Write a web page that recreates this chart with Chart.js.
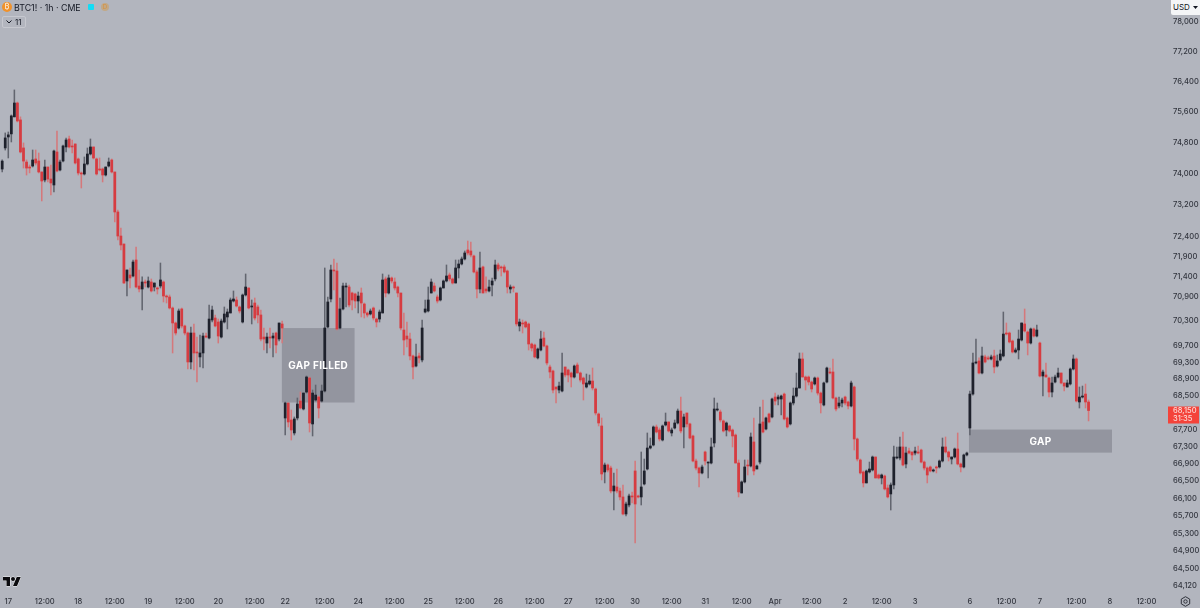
<!DOCTYPE html>
<html>
<head>
<meta charset="utf-8">
<title>BTC1! 1h CME</title>
<script src="https://cdn.jsdelivr.net/npm/chart.js@4"></script>
<style>
  html, body { margin: 0; padding: 0; background: #b2b5be; }
  #wrap { position: relative; width: 1200px; height: 608px; overflow: hidden; font-family: Inter, sans-serif; color: #131722; }
  #wrap canvas { position: absolute; left: 0; top: 0; }
  .abs { position: absolute; }
  #coin { left: 2px; top: 2px; width: 10px; height: 10px; border-radius: 50%; background: #f0922b; color: #fff; font-size: 7px; line-height: 10px; text-align: center; }
  #title { left: 14px; top: 2px; font-size: 8.8px; line-height: 11px; white-space: nowrap; }
  #live { left: 88px; top: 4px; width: 6px; height: 6px; background: #12dcf5; border-radius: 1px; }
  #delay { left: 101px; top: 3px; width: 8px; height: 8px; border-radius: 50%; background: #c2a886; color: #d88f3c; font-size: 6px; line-height: 8px; text-align: center; }
  #fold { left: 2px; top: 16px; width: 22px; height: 10px; border: 1px solid #c6c8cf; border-radius: 2px; font-size: 8px; line-height: 10px; box-sizing: content-box; }
  #fold span { position: absolute; left: 12px; top: 0; }
  #fold svg { position: absolute; left: 3px; top: 3px; }
  #usd { left: 1171px; top: 0; width: 29px; height: 15px; background: #f4f5f7; border-radius: 0 0 0 2px; font-size: 8px; line-height: 15px; padding-left: 2px; box-sizing: border-box; }
  #usd svg { position: absolute; right: 2px; top: 6px; }
</style>
</head>
<body>
<div id="wrap">
  <canvas id="chart" width="1200" height="608"></canvas>
  <div class="abs" id="coin">₿</div>
  <div class="abs" id="title">BTC1! · 1h · CME</div>
  <div class="abs" id="live"></div>
  <div class="abs" id="delay">D</div>
  <div class="abs" id="fold"><svg width="6" height="4" viewBox="0 0 6 4"><path d="M0.5 0.5 L3 3 L5.5 0.5" fill="none" stroke="#131722" stroke-width="1"/></svg><span>11</span></div>
  <div class="abs" id="usd">USD<svg width="5" height="3" viewBox="0 0 5 3"><path d="M0 0 H5 L2.5 3 Z" fill="#131722"/></svg></div>
  <svg class="abs" style="left:3px;top:575px" width="18" height="14" viewBox="0 0 36 28"><g fill="#0b0b0f" stroke="#f2f3f5" stroke-width="2" paint-order="stroke"><path d="M14 22H7V11H0V4h14v18zM28 22h-8l7.5-18h8L28 22z"/><circle cx="20" cy="8" r="4"/></g></svg>
  <svg class="abs" style="left:1180px;top:596px" width="11" height="11" viewBox="0 0 11 11"><path d="M5.5 0.7 L9.7 3.1 V7.9 L5.5 10.3 L1.3 7.9 V3.1 Z" fill="none" stroke="#30333c" stroke-width="1"/><circle cx="5.5" cy="5.5" r="1.7" fill="none" stroke="#30333c" stroke-width="1"/></svg>
</div>
<script>
const opens = [
  74115,74660,74945,75025,75470,75835,75390,74660,74295,74165,
  74193,74374,74322,74039,73833,74167,73858,73705,74555,74090,
  74322,74685,74893,74711,74763,74374,74013,73987,74245,74503,
  74685,74374,74116,74116,73961,74193,74348,74039,73017,72410,
  72209,71287,71436,71411,71809,71163,71089,71262,71138,71262,
  71138,71114,71163,71262,70916,70892,70621,70254,70132,70597,
  70181,70010,69309,70010,69550,69430,69526,69937,69888,70327,
  70376,70278,69912,70278,70401,70499,70793,70818,70646,70278,
  70941,71114,70646,70744,70646,70450,69912,69767,69912,69888,
  70010,69864,70230,67973,68328,67926,67620,67973,68375,68186,
  68589,68924,67832,68399,68470,68375,68613,70157,70842,71560,
  71535,70132,70597,71138,71138,70990,70966,70793,70990,70719,
  70499,70474,70621,70351,70351,70499,71337,70990,71362,71262,
  71138,70990,70083,69937,69864,69454,69212,69454,69357,70523,
  70548,70990,71163,70892,70818,71114,71287,71436,71337,71237,
  71610,71709,71834,72059,72034,71909,71511,71089,71635,71089,
  71040,71188,71337,71685,71635,71635,71535,71089,71138,70990,
  70181,70254,70278,70230,69743,69719,69406,69598,69888,69695,
  69188,69092,68709,68637,68613,69188,69116,69044,68948,69236,
  69044,68924,68709,68781,68852,68661,68067,67785,66710,66872,
  66802,66271,66363,66271,66133,65743,65949,66156,66733,66156,
  66133,66432,66779,67268,67338,67761,67690,67455,67808,67879,
  67620,67737,67855,68138,67761,68091,67832,67549,66965,66802,
  66687,67175,66918,66918,67385,68162,68115,67903,67690,67785,
  67690,67572,66918,66225,66479,66872,66849,67409,66779,66941,
  67879,67714,68067,67997,68470,68423,68423,68541,67973,67832,
  68328,68494,68685,69381,68948,68948,68828,68781,68924,68565,
  68281,68828,69068,69068,68447,68257,68328,68470,68352,68257,
  68709,67479,66988,66710,66456,66710,66756,67058,66640,66571,
  66617,66340,66202,66409,67035,67035,67292,66895,67198,67175,
  67151,67175,67221,66941,66802,66826,66733,66826,66826,66965,
  67292,67175,67011,67058,67245,66895,66826,67105,67737,68541,
  69285,69333,69044,69430,69406,69381,69454,69212,69357,69454,
  70010,70010,69816,69550,69598,69840,70230,70034,69767,70108,
  69937,69767,68972,68996,68924,68589,68828,68948,69044,68805,
  68709,68781,69140,69381,68352,68470,68541,68352
];
const highs = [
  74350,75050,75075,75520,76180,75860,75470,74790,74350,74220,
  74607,74607,74529,74039,74348,74167,74219,74607,75101,74348,
  74737,74919,74971,74867,74763,74400,74039,74426,74659,74893,
  74685,74400,74400,74141,74167,74400,74374,74039,73068,72612,
  72209,71560,71610,71809,72134,71560,71387,71312,71387,71337,
  71237,71138,71734,71287,70941,70941,70646,70278,70597,70621,
  70205,70034,70157,70230,69912,69961,70010,70010,70695,70670,
  70450,70351,70351,70646,70597,70867,71040,70892,70670,70966,
  71461,71114,70818,70867,70695,70572,70132,70010,70132,70010,
  70034,70254,70303,68352,68328,68162,67997,68447,68589,68565,
  68972,68948,68637,68756,68494,68756,71610,70892,71685,71834,
  71734,70867,71237,71237,71188,71015,70990,71015,71114,70744,
  70523,70597,70646,70376,70572,71461,71387,71436,71387,71362,
  71163,70990,70499,70278,70010,69478,69743,69526,70327,70818,
  71138,71337,71237,70941,71138,71312,71685,71486,71362,71809,
  71809,71884,72034,72284,72259,71934,71560,72009,71660,71387,
  71312,71362,71809,71734,71660,71685,71560,71188,71163,70990,
  70351,70327,70303,70254,69767,69743,69646,70059,70034,69719,
  69236,69116,68709,68828,69526,69188,69140,69068,69236,69285,
  69068,68948,69020,68996,69164,68685,68091,67973,66918,66895,
  66849,66687,66779,66340,66409,66018,66202,66248,66965,66179,
  67175,67011,67620,67502,67785,67808,67737,67808,68091,67879,
  67737,67926,68186,68470,68067,68091,67855,67572,67011,66826,
  66872,67198,66941,67502,68447,68328,68162,67926,67879,67808,
  67714,67596,66988,66502,66988,66988,67620,67973,66872,68233,
  68399,67997,68091,68447,68565,68517,68517,68565,67997,68352,
  68685,69044,69526,69526,68972,68972,68852,68948,68948,68589,
  68828,69188,69164,69381,68470,68470,68447,68494,68375,68852,
  68732,67502,67011,66733,66756,66941,67081,67058,66663,66663,
  66640,66409,66456,67315,67292,67526,67643,67292,67268,67175,
  67292,67315,67245,66965,66826,66849,66779,66849,66988,67502,
  67526,67198,67058,67268,67620,66918,67128,67175,68613,69526,
  69864,69406,69670,69478,69454,69478,69598,69478,69598,70523,
  70254,70034,69840,69646,70083,70254,70597,70059,70132,70132,
  70205,69792,69116,69285,68948,68948,68996,69164,69044,68805,
  68876,69164,69478,69406,68709,68732,68780,68399
];
const lows = [
  74040,74605,74400,74815,75470,75337,74530,74140,73960,74015,
  74167,74219,74013,73297,73782,73782,73449,73526,74039,74064,
  74296,74555,74659,74529,74245,73961,73628,73961,74219,74477,
  74374,73961,74064,73782,73935,74167,74013,72763,72309,72059,
  71225,70916,71114,71387,71114,71015,70572,71138,71114,71015,
  71040,70966,71114,70769,70744,70597,69526,69961,70108,70132,
  69961,69140,69140,69116,68828,69188,69164,69888,69864,70278,
  70157,69767,69888,70254,70108,70499,70769,70646,70499,70254,
  70916,70597,70230,70327,70254,69816,69598,69526,69646,69430,
  69526,69816,69767,67572,67761,67455,67572,67926,68186,68162,
  68565,67643,67549,68375,67973,68352,68589,70132,70769,71064,
  70083,70108,70572,70646,70646,70572,70621,70499,70401,70376,
  70401,70450,70327,70157,70278,70499,70892,70966,71237,71064,
  70892,70083,69478,69670,69357,68900,69188,69285,69309,70499,
  70523,70990,71015,70744,70793,71114,71262,71287,71212,71237,
  71362,71685,71809,71934,71884,71486,70867,70990,70990,70990,
  71015,70916,71287,71535,71411,71486,70990,70990,71015,70181,
  70059,70010,70132,69598,69574,69406,69381,69574,69670,69236,
  68924,68565,68328,68565,68589,68948,68828,68709,68924,69044,
  68828,68399,68685,68756,68637,68044,67785,66525,66456,66710,
  66225,65834,66225,66064,65720,65697,65903,65995,65084,66110,
  65949,66409,66756,67245,67315,67620,67432,67432,67785,67643,
  67549,67714,67832,67620,67268,67761,67479,66941,66756,66363,
  66663,66872,66571,66895,67292,68138,67879,67643,67549,67643,
  67292,66918,66133,66225,66456,66640,66826,66640,66779,66895,
  67620,67690,67855,67973,68281,68281,68044,67926,67737,67808,
  68281,68470,68685,68948,68637,68756,68589,68756,68517,68091,
  68257,68805,69020,68423,68138,68209,68233,68281,68186,68233,
  67221,66965,66663,66363,66456,66687,66733,66571,66548,66432,
  66294,66110,65834,66317,67011,66988,66849,66802,67128,66988,
  67105,67128,66918,66756,66456,66710,66710,66687,66802,66941,
  67151,66965,66895,67035,66872,66710,66802,67081,67572,68517,
  69260,69020,69020,69285,69357,69357,69044,69188,69333,69430,
  69961,69767,69526,69526,69381,69816,70034,69478,69743,69912,
  69912,68948,68494,68948,68470,68470,68805,68924,68781,68613,
  68709,68756,69116,68352,68209,68447,68209,67903
];
const closes = [
  74320,74920,75000,75495,75835,75363,74555,74320,74140,74140,
  74348,74270,74039,73807,74167,73858,73756,74581,74064,74296,
  74711,74867,74685,74685,74270,74013,73987,74245,74503,74685,
  74400,73987,74090,73961,74167,74296,74039,73017,72410,72184,
  71237,71560,71362,71759,71138,71089,71262,71237,71287,71040,
  71237,71089,71312,70916,70892,70621,70254,70010,70548,70181,
  70010,69309,70010,69526,69526,69526,69937,69912,70351,70572,
  70181,69937,70303,70474,70523,70818,70842,70670,70548,70941,
  71138,70621,70670,70376,70450,69864,69864,69912,69888,69937,
  69719,70254,70132,68328,67879,67690,67950,68304,68209,68565,
  68948,67855,68565,68517,68209,68613,70132,70769,71560,71535,
  70108,70597,71163,71163,70695,70818,70793,70916,70744,70499,
  70450,70548,70376,70278,70523,71312,70990,71362,71287,71114,
  70990,70132,69840,69864,69454,69188,69430,69406,70132,70597,
  70818,71262,71040,70793,71114,71287,71411,71337,71237,71610,
  71709,71834,71984,71984,71934,71511,71089,71610,70990,71040,
  71138,71287,71685,71585,71610,71511,71138,71138,71114,70230,
  70278,70230,70157,69743,69646,69430,69622,69864,69695,69285,
  69068,68637,68661,68732,69044,68996,68996,68948,69212,69044,
  68876,68781,68805,68852,68685,68091,67855,66663,66872,66756,
  66271,66386,66271,66133,65743,65972,66156,66133,65972,66133,
  66363,66733,67268,67315,67761,67643,67479,67785,67879,67667,
  67690,67855,68138,67667,67997,67832,67502,66965,66802,66687,
  66826,66965,66941,67292,68186,68186,67926,67667,67855,67667,
  67549,66918,66248,66479,66826,66849,67526,66733,66849,67832,
  67643,67973,67879,68423,68375,68470,68494,67950,67761,68328,
  68494,68685,69381,68948,68876,68828,68661,68924,68565,68328,
  68805,69164,69044,68447,68186,68328,68399,68328,68257,68805,
  67479,67011,66687,66456,66733,66779,67058,66571,66571,66640,
  66317,66133,66409,67058,67058,67292,66872,67151,67151,67105,
  67198,67151,66941,66802,66640,66733,66756,66802,66965,67292,
  67175,67058,67058,67245,66895,66826,67105,67151,68541,69285,
  69309,69044,69454,69309,69381,69430,69188,69333,69502,69985,
  69985,69792,69550,69598,69864,70254,70059,69767,70108,69937,
  70083,68972,69068,68948,68589,68805,68948,69044,68805,68732,
  68805,69140,69381,68375,68470,68494,68352,68150
];

// price axis labels
const priceTicks = [78000,77200,76400,75600,74800,74000,73200,72400,71900,71400,70900,70300,69700,69300,68900,68500,67700,67300,66900,66500,66100,65700,65300,64900,64500,64120];
// time axis labels, bar number and text
const timeBars = [2,14,25,37,48,60,71,83,93,106,117,129,140,152,163,175,186,198,208,220,231,243,254,266,277,289,300,318,330,341,353,364,376];
const timeLabels = ['17','12:00','18','12:00','19','12:00','20','12:00','22','12:00','24','12:00','25','12:00','26','12:00','27','12:00','30','12:00','31','12:00','Apr','12:00','2','12:00','3','6','12:00','7','12:00','8','12:00'];
// the two shaded gaps: from bar, to bar, top price, bottom price
const zoneNames = ['GAP FILLED','GAP'];
const zoneFrom = [91.9,317.7];
const zoneTo = [115.8,364.7];
const zoneTop = [70130,67700];
const zoneBottom = [68340,67160];

const RED = '#d63c41';
const DARK = '#1e212c';
const RED_WICK = '#d5787b';
const DARK_WICK = '#62656f';
const TICK_FONT = { family: 'Inter', size: 7.6, weight: '500' };

const isDown = (i) => closes[i] < opens[i];

const zonesPlugin = {
  id: 'zones',
  beforeDatasetsDraw(chart) {
    const { ctx, scales: { x, y } } = chart;
    ctx.save();
    ctx.fillStyle = '#93959f';
    zoneNames.forEach((_, i) => {
      const left = x.getPixelForValue(zoneFrom[i]);
      const top = y.getPixelForValue(zoneTop[i]);
      ctx.fillRect(left, top, x.getPixelForValue(zoneTo[i]) - left, y.getPixelForValue(zoneBottom[i]) - top);
    });
    ctx.restore();
  },
  afterDatasetsDraw(chart) {
    const { ctx, scales: { x, y } } = chart;
    ctx.save();
    ctx.fillStyle = '#ffffff';
    ctx.font = '700 10px Inter';
    ctx.letterSpacing = '0.3px';
    ctx.textAlign = 'center';
    ctx.textBaseline = 'middle';
    zoneNames.forEach((name, i) => {
      const cx = (x.getPixelForValue(zoneFrom[i]) + x.getPixelForValue(zoneTo[i])) / 2;
      const cy = (y.getPixelForValue(zoneTop[i]) + y.getPixelForValue(zoneBottom[i])) / 2;
      ctx.fillText(name, cx, cy + 1);
    });
    ctx.restore();
  },
  afterDraw(chart) {
    // last price tag on the axis
    const { ctx, scales: { y } } = chart;
    const last = closes[closes.length - 1];
    const py = y.getPixelForValue(last);
    ctx.save();
    ctx.fillStyle = '#f4433a';
    ctx.fillRect(1168, py - 4, 31, 17);
    ctx.fillStyle = '#fbd9d6';
    ctx.font = '500 7.5px Inter';
    ctx.textAlign = 'left';
    ctx.textBaseline = 'middle';
    ctx.fillText(last.toLocaleString('en-US'), 1173, py + 0.5);
    ctx.fillText('31:35', 1173, py + 8);
    ctx.restore();
  }
};

new Chart(document.getElementById('chart'), {
  type: 'bar',
  plugins: [zonesPlugin],
  data: {
    datasets: [
      {
        label: 'body',
        data: opens.map((o, i) => ({ x: i, y: [o, closes[i]] })),
        backgroundColor: (c) => isDown(c.dataIndex) ? RED : DARK,
        barThickness: 2.1,
        minBarLength: 1,
        grouped: false,
        order: 1
      },
      {
        label: 'wick',
        data: lows.map((l, i) => ({ x: i, y: [l, highs[i]] })),
        backgroundColor: (c) => isDown(c.dataIndex) ? RED_WICK : DARK_WICK,
        barThickness: 0.9,
        grouped: false,
        order: 2
      }
    ]
  },
  options: {
    responsive: false,
    animation: false,
    events: [],
    layout: { padding: 0 },
    plugins: { legend: { display: false }, tooltip: { enabled: false } },
    scales: {
      x: {
        type: 'linear',
        bounds: 'data',
        offset: false,
        min: -0.723,
        max: 382.78,
        grid: { display: false, drawTicks: false },
        border: { display: false },
        ticks: {
          autoSkip: false,
          maxRotation: 0,
          padding: 5,
          font: TICK_FONT,
          color: '#33363f',
          callback: (v) => timeLabels[timeBars.indexOf(v)]
        },
        afterBuildTicks: (s) => { s.ticks = timeBars.map((v) => ({ value: v })); },
        afterFit: (s) => { s.height = 16; s.paddingLeft = 0; s.paddingRight = 0; }
      },
      y: {
        type: 'logarithmic',
        position: 'right',
        min: 63985,
        max: 78598,
        grid: { display: false, drawTicks: false },
        border: { display: false },
        ticks: {
          autoSkip: false,
          padding: 6,
          font: TICK_FONT,
          color: '#33363f',
          callback: (v) => Number(v).toLocaleString('en-US')
        },
        afterBuildTicks: (s) => { s.ticks = priceTicks.map((v) => ({ value: v })); },
        afterFit: (s) => { s.width = 33; s.paddingTop = 0; s.paddingBottom = 0; }
      }
    }
  }
});
</script>
</body>
</html>
